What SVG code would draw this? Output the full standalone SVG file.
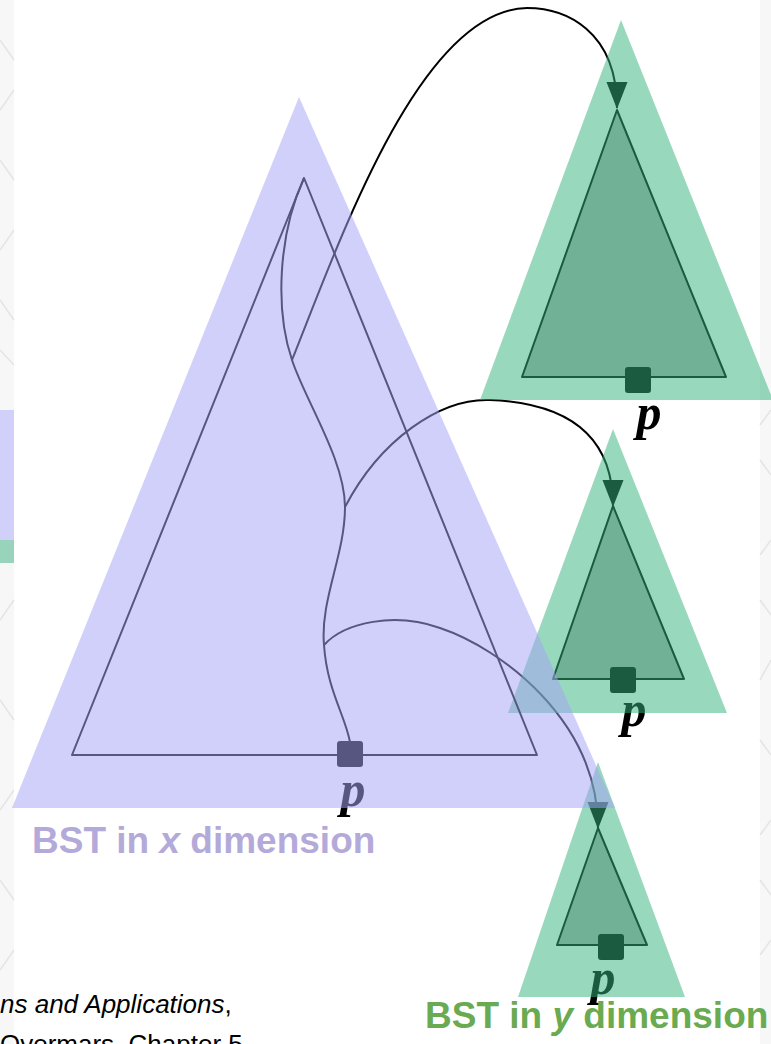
<svg xmlns="http://www.w3.org/2000/svg" width="771" height="1044" viewBox="0 0 771 1044">
  <style>
    .inner { stroke: #000; stroke-width: 2; stroke-linejoin: round; }
    .ix { fill: none; }
    .iy { fill: #b0b0b0; }
    .sq { fill: #000; }
    .plab { font-family: "Liberation Serif", "DejaVu Serif", serif; font-style: italic; font-weight: bold; font-size: 50px; fill: #000; text-anchor: middle; }
    .conn { fill: none; stroke: #000; stroke-width: 2; }
    .regx { fill: rgb(164,164,245); fill-opacity: 0.52; }
    .regy { fill: rgb(53,178,125); fill-opacity: 0.51; }
    .title { font-family: "Liberation Sans", Arial, sans-serif; font-weight: bold; font-size: 37px; }
    .foot { font-family: "Liberation Sans", Arial, sans-serif; font-size: 26px; fill: #000; }
    .pat { fill: none; stroke: #e4e4e4; stroke-width: 1.5; }
  </style>
  <defs>
    <marker id="arrow" viewBox="0 -11 27 22" markerWidth="27" markerHeight="22" refX="26" refY="0" orient="auto" markerUnits="userSpaceOnUse">
      <path d="M0,-10.5 L27,0 L0,10.5 z" fill="#000"/>
    </marker>
  </defs>

  <g id="background">
    <rect x="0" y="0" width="771" height="1044" fill="#fff"/>
    <rect x="0" y="0" width="14" height="1044" fill="#f7f7f7"/>
    <rect x="760" y="0" width="11" height="1044" fill="#f7f7f7"/>
    <path class="pat" d="M0,40 L14,60 M0,110 L14,90 M0,160 L14,180 M0,250 L14,230 M0,300 L14,320 M0,350 L14,365 M14,600 L0,620 M0,700 L14,720 M14,790 L0,810 M0,880 L14,900 M14,950 L0,970"/>
    <path class="pat" d="M771,410 L760,425 M760,460 L771,475 M771,540 L760,555 M760,600 L771,615 M771,660 L760,680 M760,740 L771,755 M771,820 L760,835 M760,880 L771,895 M771,940 L760,955"/>
    <rect x="0" y="410" width="14" height="130" fill="#d0d0fb"/>
    <rect x="0" y="540" width="14" height="23" fill="#98d4bc"/>
  </g>

  <g id="connectors">
    <path class="conn" d="M292,360 C340,240 420,10 527,8 C565,8 617,30 617,108" marker-end="url(#arrow)"/>
    <path class="conn" d="M345,507 C380,440 440,398 490,400 C560,403 613,430 613,506" marker-end="url(#arrow)"/>
    <path class="conn" d="M324,645 C345,622 395,612 440,628 C500,648 598,720 598,828" marker-end="url(#arrow)"/>
  </g>

  <g id="tree-y-bottom">
    <polygon class="inner iy" points="598,828 557,945 647,945"/>
    <rect class="sq" x="598" y="934" width="26" height="26" rx="3"/>
    <text class="plab" x="603" y="994">p</text>
    <polygon class="regy" points="598,762 518,997 685,997"/>
  </g>

  <g id="tree-y-middle">
    <polygon class="inner iy" points="613,506 553,679 684,679"/>
    <rect class="sq" x="610" y="667" width="26" height="26" rx="3"/>
    <text class="plab" x="634" y="726">p</text>
    <polygon class="regy" points="613,429 508,713 727,713"/>
  </g>

  <g id="tree-y-top">
    <polygon class="inner iy" points="617,110 522,377 726,377"/>
    <rect class="sq" x="625" y="367" width="26" height="26" rx="3"/>
    <text class="plab" x="649" y="429">p</text>
    <polygon class="regy" points="621,20 480,400 773,400"/>
  </g>

  <g id="tree-x">
    <polygon class="inner ix" points="304,178 72,755 537,755"/>
    <path class="conn" d="M304,178 C278,235 275,310 292,360 C305,400 345,460 345,507 C345,555 320,600 324,645 C327,690 345,715 350,742"/>
    <rect class="sq" x="337" y="741" width="26" height="26" rx="3"/>
    <text class="plab" x="353" y="806">p</text>
    <polygon class="regx" points="299,97 12,808 615,808"/>
  </g>

  <g id="labels">
    <text class="title" x="32" y="853" fill="#b4aada">BST in <tspan font-style="italic">x</tspan> dimension</text>
    <text class="title" x="425" y="1028" fill="#6aaa50">BST in <tspan font-style="italic">y</tspan> dimension</text>
    <text class="foot" x="0" y="1013" font-style="italic">ns and Applications<tspan font-style="normal">,</tspan></text>
    <text class="foot" x="0" y="1053">Overmars, Chapter 5</text>
  </g>
</svg>
